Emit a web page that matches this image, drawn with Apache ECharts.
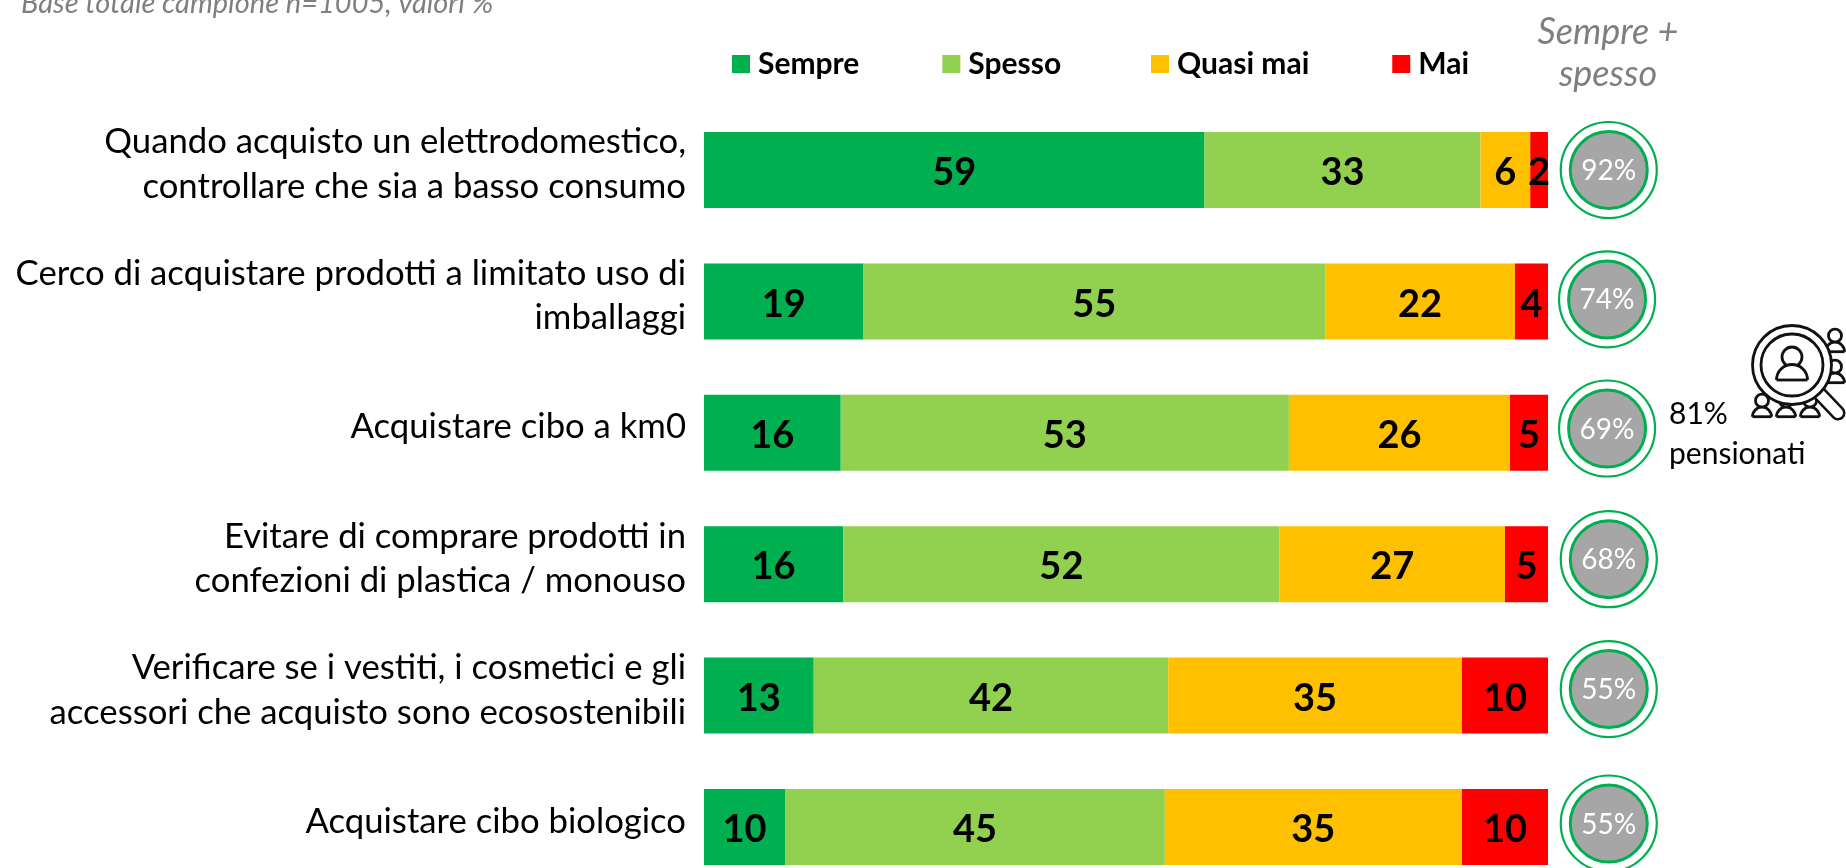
<!DOCTYPE html>
<html><head><meta charset="utf-8">
<style>html,body{margin:0;padding:0;background:#fff}#c{width:1846px;height:868px}</style>
<script src="https://cdn.jsdelivr.net/npm/echarts@6/dist/echarts.min.js"></script>
</head><body><div id="c"></div>
<script>
const categories = [
  "Quando acquisto un elettrodomestico,\ncontrollare che sia a basso consumo",
  "Cerco di acquistare prodotti a limitato uso di\nimballaggi",
  "Acquistare cibo a km0",
  "Evitare di comprare prodotti in\nconfezioni di plastica / monouso",
  "Verificare se i vestiti, i cosmetici e gli\naccessori che acquisto sono ecosostenibili",
  "Acquistare cibo biologico"
];
const sempre   = [59.3, 18.9, 16.2, 16.49, 13.0, 9.6];
const spesso   = [32.7, 54.7, 53.1, 51.71, 42.0, 45.0];
const quasiMai = [5.9, 22.49, 26.2, 26.7, 34.8, 35.2];
const mai      = [2.1, 3.91, 4.5, 5.1, 10.2, 10.2];
const sempreSpesso = [92, 74, 69, 68, 55, 55];
const seriesNames = ["Sempre", "Spesso", "Quasi mai", "Mai"];
const seriesColors = ["#00B050", "#92D050", "#FFC000", "#FF0000"];
const seriesValues = [sempre, spesso, quasiMai, mai];

const FONT = "Lato";
const GREEN = "#00B050";
const RING_X = [107.2, 107.0, 107.0, 107.2, 107.2, 107.2];
const RING_DY = [0, -2, -4.3, -5, -6.5, -3.5];

const bars = seriesNames.map((name, i) => ({
  name, type: "bar", stack: "t", barWidth: 76, data: seriesValues[i],
  itemStyle: { color: seriesColors[i] },
  label: { show: true, position: "inside", offset: [0, 3], color: "#000", fontFamily: FONT, fontWeight: "bold",
           fontSize: 38, formatter: p => Math.round(p.value) },
  silent: true
}));

const ring = {
  type: "scatter", symbol: "circle", symbolSize: 96, clip: false, silent: true, z: 3,
  itemStyle: { color: "#fff", borderColor: GREEN, borderWidth: 2.2, opacity: 1 },
  data: categories.map((c, i) => ({ value: [RING_X[i], i], symbolOffset: [0, RING_DY[i]] }))
};
const disc = {
  type: "scatter", symbol: "circle", symbolSize: 77, clip: false, silent: true, z: 4,
  itemStyle: { color: "#A6A6A6", borderColor: GREEN, borderWidth: 3, opacity: 1 },
  label: { show: true, position: "inside", offset: [0, 1], color: "#fff", fontFamily: FONT, fontSize: 28,
           formatter: p => sempreSpesso[p.dataIndex] + "%" },
  data: categories.map((c, i) => ({ value: [RING_X[i], i], symbolOffset: [0, RING_DY[i]] }))
};

const S = { stroke: "#111", lineWidth: 2.8, fill: "#fff" };
function person(x, y, k) {
  return [
    { type: "circle", shape: { cx: x, cy: y - 7 * k, r: 6.5 * k }, style: S },
    { type: "arc", shape: { cx: x, cy: y + 9 * k, r: 9.5 * k, startAngle: Math.PI, endAngle: 2 * Math.PI }, style: S },
    { type: "line", shape: { x1: x - 9.5 * k, y1: y + 9 * k, x2: x + 9.5 * k, y2: y + 9 * k }, style: S }
  ];
}
const icon = [
  ...person(1835, 342.7, 1), ...person(1835, 373.7, 1),
  ...person(1762, 407.7, 1), ...person(1786, 407.7, 1), ...person(1810, 407.7, 1),
  { type: "line", shape: { x1: 1818, y1: 392, x2: 1838, y2: 413 }, style: { stroke: "#111", lineWidth: 15, lineCap: "round" } },
  { type: "line", shape: { x1: 1818, y1: 392, x2: 1838, y2: 413 }, style: { stroke: "#fff", lineWidth: 10, lineCap: "round" } },
  { type: "circle", shape: { cx: 1792, cy: 365, r: 39.5 }, style: S },
  { type: "circle", shape: { cx: 1792, cy: 365, r: 31 }, style: S },
  { type: "circle", shape: { cx: 1792, cy: 357, r: 10 }, style: S },
  { type: "arc", shape: { cx: 1792, cy: 380, r: 15.5, startAngle: Math.PI, endAngle: 2 * Math.PI }, style: S },
  { type: "line", shape: { x1: 1776.5, y1: 380, x2: 1807.5, y2: 380 }, style: S }
].map(e => ({ ...e, silent: true, z: 10 }));

const legendBase = { top: 44, icon: "rect", itemWidth: 18, itemHeight: 18, itemGap: 83, selectedMode: false,
  textStyle: { fontFamily: FONT, fontWeight: "bold", fontSize: 30, color: "#000", padding: [0, 0, 0, 3] } };

const chart = echarts.init(document.getElementById("c"), null, { renderer: "canvas" });
chart.setOption({
  animation: false,
  backgroundColor: "#fff",
  textStyle: { fontFamily: FONT },
  title: { text: "Base totale campione n=1005, valori %", left: 16, top: -16,
           textStyle: { fontFamily: FONT, fontStyle: "italic", fontWeight: "normal", fontSize: 29, color: "#7F7F7F" } },
  legend: [
    { ...legendBase, data: seriesNames.slice(0, 2), left: 727 },
    { ...legendBase, data: seriesNames.slice(2), left: 1146 }
  ],
  grid: [
    { left: 704, top: 104.3, width: 928.4, height: 788.4, outerBoundsMode: "none" },
    { left: 704, top: 98.8, width: 928.4, height: 788.4, outerBoundsMode: "none" }
  ],
  xAxis: [
    { type: "value", min: 0, max: 110, show: false, gridIndex: 0 },
    { type: "value", min: 0, max: 110, show: false, gridIndex: 1 }
  ],
  yAxis: [
    { type: "category", inverse: true, data: categories, gridIndex: 0, axisLine: { show: false }, axisTick: { show: false }, axisLabel: { show: false } },
    { type: "category", inverse: true, data: categories, gridIndex: 1, axisLine: { show: false }, axisTick: { show: false },
      axisLabel: { margin: 18, align: "right", color: "#000", fontFamily: FONT, fontSize: 34.7, lineHeight: 44.5 } }
  ],
  graphic: [
    { type: "text", silent: true, x: 1608, y: 11,
      style: { text: "Sempre +\nspesso", fill: "#7F7F7F", font: "italic 36px Lato", lineHeight: 42, align: "center" } },
    { type: "text", silent: true, x: 1669, y: 394,
      style: { text: "81%\npensionati", fill: "#000", font: "30px Lato", lineHeight: 40 } },
    ...icon
  ],
  series: [...bars, ring, disc]
});
</script></body></html>
